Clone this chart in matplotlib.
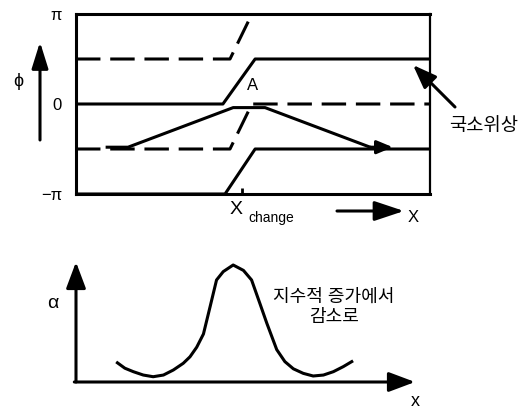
import numpy as np
import matplotlib
matplotlib.use('Agg')
import matplotlib.pyplot as plt

plt.rcParams['font.family'] = ['Liberation Sans', 'Noto Sans CJK KR', 'DejaVu Sans']

#==============================================================================
#                         Data
#==============================================================================
PI = np.pi
x_change = 4.69

# upper panel (phase, in units of pi)
sol_hi_x = [0, 4.15, 5.06, 10]
sol_hi_y = [0, 0, 0.5, 0.5]
sol_lo_x = [0, 4.21, 5.06, 10]
sol_lo_y = [-1, -1, -0.5, -0.5]
dash_hi_x = [0, 4.35, 4.97]
dash_hi_y = [0.5, 0.5, 1]
dash_lo_x = [0, 4.35, 4.97, 10]
dash_lo_y = [-0.5, -0.5, 0, 0]
loc_x = [0.88, 1.47, 4.44, 5.34, 8.31, 8.95]
loc_y = [-0.48, -0.48, -0.04, -0.04, -0.48, -0.48]
ytick_vals = [-1, 0, 1]
ytick_lbls = ['\u2212\u03c0', '0', '\u03c0']

# lower panel (alpha)
alpha_x = [1.17, 1.38, 1.62, 1.90, 2.18, 2.47, 2.75, 3.03, 3.22, 3.41,
           3.60, 3.79, 3.97, 4.16, 4.44, 4.73, 4.96, 5.20, 5.39, 5.67,
           5.90, 6.14, 6.42, 6.70, 6.99, 7.27, 7.55, 7.79]
alpha_y = [0.16, 0.115, 0.086, 0.058, 0.044, 0.058, 0.10, 0.156, 0.21, 0.29,
           0.40, 0.63, 0.85, 0.92, 0.975, 0.93, 0.85, 0.65, 0.49, 0.27,
           0.17, 0.11, 0.072, 0.05, 0.058, 0.086, 0.128, 0.17]

#==============================================================================
#                         Plotting
#==============================================================================
W, H = 526, 412
LW = 2.2
fig = plt.figure(figsize=(W/100, H/100), dpi=100)

# ---- upper panel
ax1 = fig.add_axes([76/W, 1-194/H, 354/W, 180/H])
ax1.set_xlim(0, 10)
ax1.set_ylim(-PI, PI)
for s in ax1.spines.values():
    s.set_linewidth(LW)
ax1.spines['right'].set_linewidth(1.6)

ax1.plot(sol_hi_x, np.array(sol_hi_y)*PI, 'k-', lw=LW, solid_capstyle='butt', clip_on=False)
ax1.plot(sol_lo_x, np.array(sol_lo_y)*PI, 'k-', lw=LW, solid_capstyle='butt', clip_on=False)
ax1.plot(dash_hi_x, np.array(dash_hi_y)*PI, 'k--', lw=LW, dashes=(8, 3.2), clip_on=False)
ax1.plot(dash_lo_x, np.array(dash_lo_y)*PI, 'k--', lw=LW, dashes=(8, 3.2), clip_on=False)

ly = np.array(loc_y)*PI
ax1.plot(loc_x[:-1], ly[:-1], 'k-', lw=LW)
ax1.annotate('', xy=(loc_x[-1], ly[-1]), xytext=(loc_x[-2], ly[-2]),
             arrowprops=dict(arrowstyle='-|>,head_length=0.6,head_width=0.25',
                             mutation_scale=16, color='k', lw=LW, shrinkA=0, shrinkB=0))

ax1.set_yticks(np.array(ytick_vals)*PI)
ax1.set_yticklabels(ytick_lbls, fontsize=12)
ax1.tick_params(axis='y', length=0, pad=10)
ax1.set_xticks([x_change])
ax1.set_xticklabels([''])
ax1.tick_params(axis='x', direction='in', length=4.5, width=2)

ax1.text(5.0, 0.21*PI, 'A', fontsize=12, ha='center', va='center')

# phi arrow
ax1.annotate('', xy=(40, H-42), xytext=(40, H-140), xycoords='figure pixels',
             textcoords='figure pixels',
             arrowprops=dict(arrowstyle='-|>,head_length=0.8,head_width=0.25',
                             mutation_scale=20, color='k', lw=LW, shrinkA=0, shrinkB=0))
fig.text(18/W, 1-82/H, '\u03d5', fontsize=13, ha='center', va='center')

# local phase label
ax1.annotate('', xy=(413, H-65), xytext=(455, H-107), xycoords='figure pixels',
             textcoords='figure pixels',
             arrowprops=dict(arrowstyle='-|>,head_length=0.8,head_width=0.3',
                             mutation_scale=18, color='k', lw=LW, shrinkA=0, shrinkB=0))
fig.text(484/W, 1-127/H, '국소위상', fontsize=13.5, ha='center', va='center')

# x change / x arrow
fig.text(236/W, 1-209/H, 'X', fontsize=14, ha='center', va='center')
fig.text(248/W, 1-218/H, 'change', fontsize=10, ha='left', va='center')
ax1.annotate('', xy=(404, H-211), xytext=(337, H-211), xycoords='figure pixels',
             textcoords='figure pixels',
             arrowprops=dict(arrowstyle='-|>,head_length=0.9,head_width=0.3',
                             mutation_scale=20, color='k', lw=LW, shrinkA=0, shrinkB=0))
fig.text(413/W, 1-218/H, 'X', fontsize=12, ha='center', va='center')

# ---- lower panel
ax2 = fig.add_axes([76/W, 1-382/H, (415-76)/W, 120/H])
ax2.set_xlim(0, (415-76)/35.4)
ax2.set_ylim(0, 1)
ax2.axis('off')
ax2.plot(alpha_x, alpha_y, 'k-', lw=LW, solid_joinstyle='round')
ax2.annotate('', xy=(0, 1), xytext=(0, 0), xycoords='axes fraction',
             arrowprops=dict(arrowstyle='-|>,head_length=0.8,head_width=0.3',
                             mutation_scale=20, color='k', lw=LW, shrinkA=0, shrinkB=0))
ax2.annotate('', xy=(1, 0), xytext=(-0.005, 0), xycoords='axes fraction',
             arrowprops=dict(arrowstyle='-|>,head_length=0.8,head_width=0.3',
                             mutation_scale=20, color='k', lw=LW, shrinkA=0, shrinkB=0))
fig.text(53/W, 1-303/H, '\u03b1', fontsize=14, ha='center', va='center')
fig.text(415/W, 1-402/H, 'x', fontsize=13, ha='center', va='center')
fig.text(334/W, 1-307/H, '지수적 증가에서\n감소로', fontsize=13, ha='center',
         va='center', linespacing=1.25)

plt.savefig('out.png', dpi=100)
